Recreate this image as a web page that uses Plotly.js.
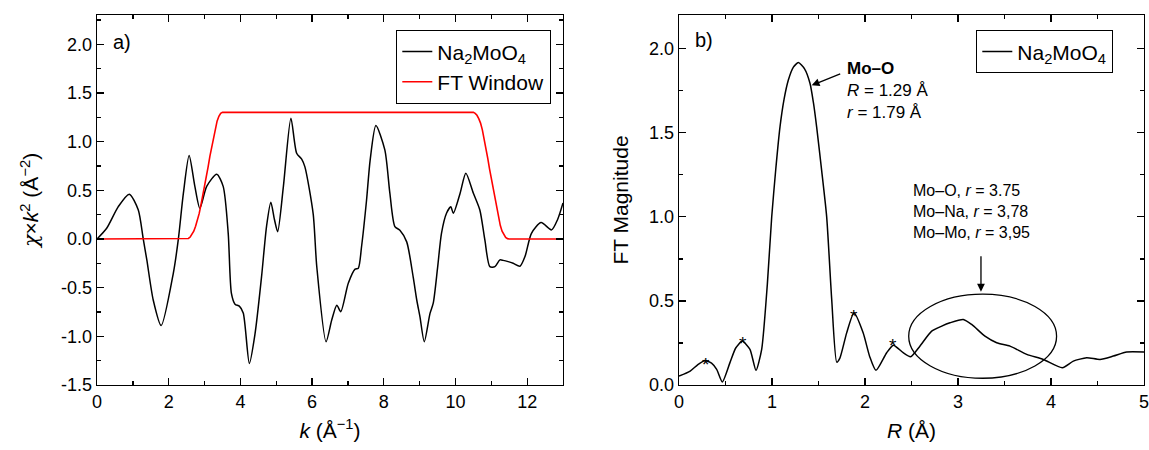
<!DOCTYPE html>
<html>
<head>
<meta charset="utf-8">
<script src="https://cdn.plot.ly/plotly-3.0.1.min.js"></script>
<style>html,body{margin:0;padding:0;background:#fff;}#chart{width:1149px;height:450px;}</style>
</head>
<body>
<div id="chart"></div>
<script>
// ---- Panel a) chi(k)*k^2 ----
const kValues = [0, 0.27, 0.59, 0.9, 1.15, 1.29, 1.39, 1.57, 1.79, 2.13, 2.27, 2.41, 2.57, 2.73, 2.87, 3.06, 3.34, 3.52, 3.66, 3.75, 3.85, 3.97, 4.08, 4.25, 4.41, 4.59, 4.73, 4.85, 4.95, 5.04, 5.2, 5.41, 5.57, 5.71, 5.8, 6.03, 6.13, 6.39, 6.55, 6.69, 6.8, 7.01, 7.2, 7.29, 7.38, 7.52, 7.62, 7.78, 8.03, 8.17, 8.31, 8.45, 8.64, 8.82, 8.92, 9.01, 9.13, 9.29, 9.38, 9.5, 9.61, 9.75, 9.87, 9.94, 10.13, 10.29, 10.5, 10.68, 10.82, 10.96, 11.1, 11.24, 11.33, 11.47, 11.61, 11.8, 11.94, 12.12, 12.39, 12.68, 12.85, 13];
const chiValues = [0, 0.11, 0.33, 0.46, 0.30, 0.0, -0.216, -0.63, -0.89, -0.35, 0.0, 0.47, 0.856, 0.54, 0.315, 0.54, 0.665, 0.54, 0.06, -0.56, -0.67, -0.69, -0.76, -1.278, -0.97, -0.39, 0.13, 0.377, 0.2, 0.075, 0.54, 1.24, 0.88, 0.82, 0.74, 0.26, -0.28, -1.055, -0.83, -0.68, -0.747, -0.455, -0.31, -0.30, -0.08, 0.4, 0.81, 1.165, 0.915, 0.47, 0.127, 0.09, -0.03, -0.39, -0.627, -0.80, -1.055, -0.764, -0.66, -0.3, 0.058, 0.264, 0.33, 0.264, 0.47, 0.675, 0.47, 0.298, -0.01, -0.285, -0.285, -0.215, -0.22, -0.233, -0.25, -0.28, -0.18, 0.058, 0.168, 0.093, 0.2, 0.37];
const windowK = [0, 2.5, 2.55, 2.6, 2.65, 2.7, 2.75, 2.8, 2.85, 2.9, 2.95, 3.0, 3.05, 3.1, 3.15, 3.2, 3.25, 3.3, 3.35, 3.4, 3.45, 3.5, 10.5, 10.55, 10.6, 10.65, 10.7, 10.75, 10.8, 10.85, 10.9, 10.95, 11.0, 11.05, 11.1, 11.15, 11.2, 11.25, 11.3, 11.35, 11.4, 11.45, 11.5, 13];
const windowValues = [0, 0, 0.005, 0.02, 0.045, 0.08, 0.13, 0.19, 0.26, 0.35, 0.44, 0.54, 0.64, 0.74, 0.85, 0.95, 1.05, 1.14, 1.21, 1.26, 1.29, 1.3, 1.3, 1.29, 1.27, 1.235, 1.19, 1.12, 1.03, 0.93, 0.83, 0.72, 0.62, 0.51, 0.40, 0.30, 0.21, 0.14, 0.08, 0.04, 0.015, 0.003, 0, 0];
const chiTickVals = [-1.5, -1.0, -0.5, 0.0, 0.5, 1.0, 1.5, 2.0];
const chiTickText = ["-1.5", "-1.0", "-0.5", "0.0", "0.5", "1.0", "1.5", "2.0"];

// ---- Panel b) FT magnitude ----
const rValues = [0, 0.12, 0.2, 0.28, 0.35, 0.405, 0.466, 0.548, 0.61, 0.68, 0.763, 0.828, 0.889, 0.95, 0.997, 1.04, 1.086, 1.13, 1.175, 1.23, 1.283, 1.35, 1.409, 1.445, 1.48, 1.535, 1.588, 1.642, 1.696, 1.73, 1.803, 1.882, 1.98, 2.05, 2.118, 2.233, 2.305, 2.41, 2.49, 2.59, 2.717, 2.825, 2.914, 3.057, 3.147, 3.29, 3.416, 3.559, 3.739, 3.917, 4.122, 4.24, 4.384, 4.527, 4.67, 4.814, 5.0];
const ftValues = [0.053, 0.083, 0.12, 0.146, 0.13, 0.093, 0.018, 0.133, 0.22, 0.261, 0.212, 0.087, 0.212, 0.6, 1.0, 1.28, 1.535, 1.70, 1.812, 1.89, 1.917, 1.88, 1.793, 1.68, 1.535, 1.27, 1.0, 0.508, 0.136, 0.16, 0.31, 0.429, 0.31, 0.17, 0.087, 0.192, 0.237, 0.192, 0.168, 0.231, 0.32, 0.35, 0.37, 0.39, 0.36, 0.29, 0.251, 0.231, 0.182, 0.152, 0.103, 0.142, 0.162, 0.152, 0.172, 0.196, 0.196];
const rTickVals = [0, 1, 2, 3, 4, 5];
const starR = [0.29, 0.685, 1.882, 2.305];
const starFT = [0.152, 0.277, 0.439, 0.267];

const FONT = "'Liberation Sans', Arial, sans-serif";

const traces = [
  {x: kValues, y: chiValues, type: 'scatter', mode: 'lines', name: 'Na<sub>2</sub>MoO<sub>4</sub>',
   line: {color: '#000', width: 1.5, shape: 'spline', smoothing: 0.7}, xaxis: 'x', yaxis: 'y', legend: 'legend'},
  {x: windowK, y: windowValues, type: 'scatter', mode: 'lines', name: 'FT Window',
   line: {color: '#ff0000', width: 1.6, shape: 'linear'}, xaxis: 'x', yaxis: 'y', legend: 'legend'},
  {x: rValues, y: ftValues, type: 'scatter', mode: 'lines', name: 'Na<sub>2</sub>MoO<sub>4</sub>',
   line: {color: '#000', width: 1.5, shape: 'spline', smoothing: 0.6}, xaxis: 'x2', yaxis: 'y2', legend: 'legend2'}
];

const axisCommon = {
  showline: true, linecolor: '#000', linewidth: 1.3, mirror: 'allticks',
  ticks: 'inside', ticklen: 7, tickwidth: 1.3, tickcolor: '#000',
  showgrid: false, zeroline: false, automargin: false, ticklabeloverflow: 'allow',
  tickfont: {family: FONT, size: 18, color: '#000'}
};

const starAnn = starR.map((r, i) => ({
  x: r, y: starFT[i], xref: 'x2', yref: 'y2', text: '*', showarrow: false,
  font: {family: FONT, size: 19, color: '#000'}, yshift: -5
}));

const layout = {
  width: 1149, height: 450,
  margin: {l: 0, r: 0, t: 15, b: 65},
  paper_bgcolor: '#fff', plot_bgcolor: '#fff',
  font: {family: FONT, color: '#000'},
  xaxis: Object.assign({}, axisCommon, {
    domain: [97/1149, 563/1149], range: [0, 13], tick0: 0, dtick: 2,
    minor: {tickmode: 'linear', tick0: 0, dtick: 1, ticks: 'inside', ticklen: 4, tickcolor: '#000', tickwidth: 1.3},
    title: {text: '<i>k</i> (Å<sup>−1</sup>)', font: {family: FONT, size: 21, color: '#000'}, standoff: 12},
    anchor: 'y'
  }),
  yaxis: Object.assign({}, axisCommon, {
    range: [-1.5, 2.3], tickmode: 'array', tickvals: chiTickVals, ticktext: chiTickText,
    minor: {tickmode: 'linear', tick0: 0, dtick: 0.25, ticks: 'inside', ticklen: 4, tickcolor: '#000', tickwidth: 1.3},
    title: {text: "<span style=\"font-family:'DejaVu Serif'\"><i>χ</i></span>×<i>k</i><sup>2</sup> (Å<sup>−2</sup>)", font: {family: FONT, size: 21, color: '#000'}, standoff: 16},
    anchor: 'x'
  }),
  xaxis2: Object.assign({}, axisCommon, {
    domain: [679/1149, 1144/1149], range: [0, 5], tickmode: 'array', tickvals: rTickVals,
    minor: {tickmode: 'linear', tick0: 0, dtick: 0.5, ticks: 'inside', ticklen: 4, tickcolor: '#000', tickwidth: 1.3},
    title: {text: '<i>R</i> (Å)', font: {family: FONT, size: 21, color: '#000'}, standoff: 12},
    anchor: 'y2'
  }),
  yaxis2: Object.assign({}, axisCommon, {
    range: [0, 2.2], tick0: 0, dtick: 0.5, tickformat: '.1f',
    minor: {tickmode: 'linear', tick0: 0, dtick: 0.25, ticks: 'inside', ticklen: 4, tickcolor: '#000', tickwidth: 1.3},
    title: {text: 'FT Magnitude', font: {family: FONT, size: 21, color: '#000'}, standoff: 14},
    anchor: 'x2'
  }),
  legend: {
    x: 551/1149, xanchor: 'right', y: (385-30)/370, yanchor: 'top',
    bordercolor: '#000', borderwidth: 1.3, bgcolor: '#fff',
    font: {family: FONT, size: 21, color: '#000'}, tracegroupgap: 0
  },
  legend2: {
    x: 1113/1149, xanchor: 'right', y: (385-30)/370, yanchor: 'top',
    bordercolor: '#000', borderwidth: 1.3, bgcolor: '#fff',
    font: {family: FONT, size: 21, color: '#000'}
  },
  shapes: [
    {type: 'circle', xref: 'x2', yref: 'y2', x0: 2.47, x1: 4.06, y0: 0.04, y1: 0.54,
     line: {color: '#000', width: 1.3}}
  ],
  annotations: [
    {xref: 'paper', yref: 'paper', x: 111/1149, y: (385-42)/370, xanchor: 'left', yanchor: 'middle',
     text: 'a)', showarrow: false, font: {family: FONT, size: 20, color: '#000'}},
    {xref: 'paper', yref: 'paper', x: 693/1149, y: (385-40)/370, xanchor: 'left', yanchor: 'middle',
     text: 'b)', showarrow: false, font: {family: FONT, size: 20, color: '#000'}},
    {xref: 'x2', yref: 'y2', x: 1.427, y: 1.782, ax: 30, ay: -12, text: '', showarrow: true,
     arrowhead: 2, arrowsize: 1.2, arrowwidth: 1.3, arrowcolor: '#000'},
    {xref: 'paper', yref: 'paper', x: 845/1149, y: (385-57)/370, xanchor: 'left', yanchor: 'top', align: 'left',
     text: '<b>Mo–O</b><br><i>R</i> = 1.29 Å<br><i>r</i> = 1.79 Å', showarrow: false,
     font: {family: FONT, size: 17, color: '#000'}},
    {xref: 'paper', yref: 'paper', x: 911/1149, y: (385-180)/370, xanchor: 'left', yanchor: 'top', align: 'left',
     text: 'Mo–O, <i>r</i> = 3.75<br>Mo–Na, <i>r</i> = 3,78<br>Mo–Mo, <i>r</i> = 3,95', showarrow: false,
     font: {family: FONT, size: 16, color: '#000'}},
    {xref: 'x2', yref: 'y2', x: 3.247, y: 0.555, ax: 0, ay: -37, text: '', showarrow: true,
     arrowhead: 2, arrowsize: 1.2, arrowwidth: 1.3, arrowcolor: '#000'}
  ].concat(starAnn)
};

Plotly.newPlot('chart', traces, layout, {displayModeBar: false, staticPlot: true});
</script>
</body>
</html>
